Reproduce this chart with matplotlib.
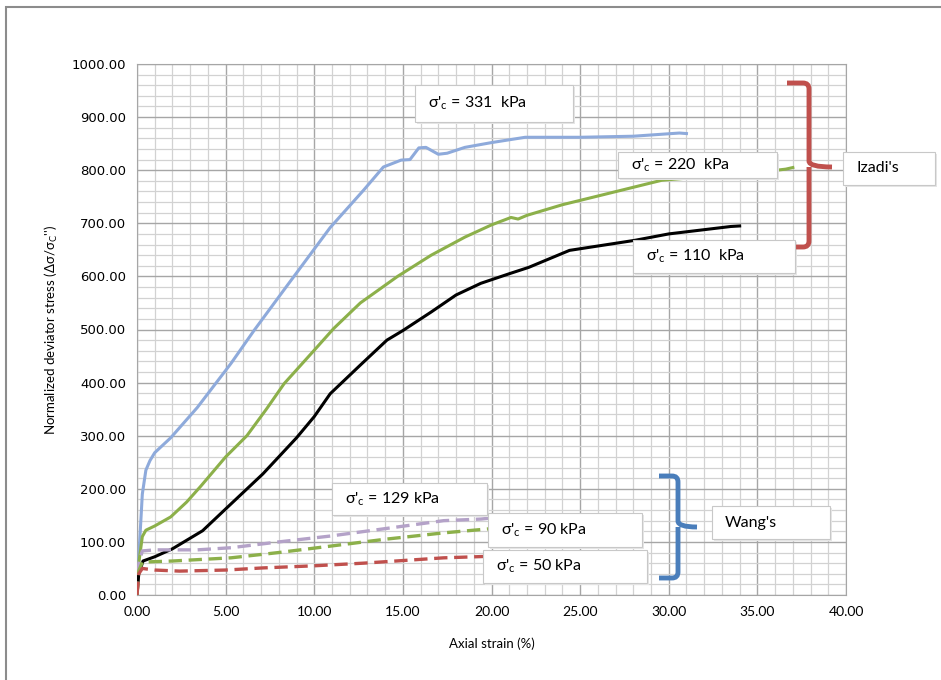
import matplotlib.pyplot as plt
from matplotlib.patches import Rectangle
from matplotlib.path import Path
from matplotlib.patches import PathPatch
from matplotlib.ticker import MultipleLocator, FormatStrFormatter

# Datos (deformacion axial %, esfuerzo normalizado)
# Izadi's
x_331 = [0, 0.15, 0.3, 0.5, 0.73, 1.0, 1.9, 3.4, 5.3, 6.6, 8.5, 10.9, 12.8, 13.9,
         14.9, 15.4, 15.9, 16.3, 17.0, 17.5, 18.5, 20.0, 21.9, 25.0, 28.0, 30.6, 31.0]
y_331 = [0, 100, 190, 235, 253, 268, 296, 353, 436, 498, 584, 692, 763, 806,
         819, 820, 842, 843, 830, 832, 843, 852, 862, 862, 864, 870, 869]

x_220 = [0, 0.1, 0.3, 0.5, 1.0, 1.9, 2.8, 3.6, 5.0, 6.2, 7.3, 8.3, 10.0, 11.1, 12.6,
         14.7, 16.6, 18.5, 20.0, 21.1, 21.5, 22.0, 24.0, 26.2, 29.6, 31.0, 33.6, 36.6, 37.0]
y_220 = [0, 60, 110, 122, 130, 147, 175, 205, 260, 300, 350, 398, 461, 502, 550,
         600, 640, 674, 697, 711, 708, 715, 735, 753, 781, 785, 790, 802, 805]

x_110 = [0, 0.1, 0.34, 1.0, 2.0, 3.7, 5.0, 7.1, 9.0, 10.0, 10.9, 12.6, 14.1, 15.0, 16.6,
         18.0, 19.4, 21.0, 22.1, 24.4, 28.1, 30.0, 33.5, 34.0]
y_110 = [0, 40, 64, 72, 87, 121, 162, 228, 296, 336, 379, 433, 480, 498, 533,
         565, 587, 605, 617, 649, 668, 680, 694, 695]

# Wang's
x_129 = [0, 0.1, 0.3, 1.0, 3.4, 5.3, 8.0, 10.9, 14.0, 17.3, 19.4, 20.0]
y_129 = [0, 60, 83, 85, 85, 89, 100, 111, 125, 140, 143, 145]

x_90 = [0, 0.1, 0.3, 2.0, 5.3, 8.0, 10.9, 14.0, 17.3, 20.0]
y_90 = [0, 45, 62, 64, 70, 80, 92, 105, 117, 125]

x_50 = [0, 0.1, 0.3, 1.0, 2.4, 5.0, 7.1, 10.0, 12.8, 17.3, 20.0]
y_50 = [0, 40, 50, 47, 45, 47, 51, 55, 60, 70, 73]

W, H = 941, 680
fig = plt.figure(figsize=(W / 100, H / 100), dpi=100)
ax = fig.add_axes([137 / W, 1 - 595 / H, (846 - 137) / W, (595 - 64) / H])

# Borde del area del grafico
fig.patches.append(Rectangle((6 / W, -0.1), 1.2, 1 - 7 / H + 0.1, transform=fig.transFigure,
                             fill=False, edgecolor='#8c8c8c', linewidth=1.5))

# Curvas
ax.plot(x_331, y_331, color='#8eaadb', linewidth=2.2, zorder=3)
ax.plot(x_220, y_220, color='#8cb04a', linewidth=2.2, zorder=3)
ax.plot(x_110, y_110, color='black', linewidth=2.2, zorder=3)
ax.plot(x_129, y_129, color='#b4a2c8', linewidth=2.4, dashes=(4, 2), zorder=3)
ax.plot(x_90, y_90, color='#8cb04a', linewidth=2.4, dashes=(4, 2), zorder=3)
ax.plot(x_50, y_50, color='#c0504d', linewidth=2.4, dashes=(4, 2), zorder=3)

ax.set_xlim(0, 40)
ax.set_ylim(0, 1000)
ax.xaxis.set_major_locator(MultipleLocator(5))
ax.xaxis.set_minor_locator(MultipleLocator(1))
ax.yaxis.set_major_locator(MultipleLocator(100))
ax.yaxis.set_minor_locator(MultipleLocator(20))
ax.xaxis.set_major_formatter(FormatStrFormatter('%.2f'))
ax.yaxis.set_major_formatter(FormatStrFormatter('%.2f'))
ax.grid(which='major', color='#a6a6a6', linewidth=1.0)
ax.grid(which='minor', color='#d2d2d2', linewidth=0.9)
ax.set_axisbelow(True)
ax.tick_params(which='both', length=0, pad=8)
for lab in ax.get_xticklabels():
    lab.set_fontfamily('Lato')
    lab.set_fontsize(10)
for lab in ax.get_yticklabels():
    lab.set_fontfamily('DejaVu Sans')
    lab.set_fontsize(9.5)
for s in ax.spines.values():
    s.set_color('#a6a6a6')

ax.set_xlabel('Axial strain (%)', fontfamily='Lato', fontsize=9.5, labelpad=14)
ax.set_ylabel(r"Normalized deviator stress (Δσ/σ$\mathregular{_C}$'')", fontfamily='Lato',
              fontsize=9.5, labelpad=8)

# Cuadros de texto
etiquetas = [
    (r"σ'$\mathregular{_c}$ = 331  kPa", 415, 85, 573, 122),
    (r"σ'$\mathregular{_c}$ = 220  kPa", 618, 152, 777, 178),
    (r"σ'$\mathregular{_c}$ = 110  kPa", 633, 240, 795, 273),
    (r"σ'$\mathregular{_c}$ = 129 kPa", 332, 483, 487, 515),
    (r"σ'$\mathregular{_c}$ = 90 kPa", 488, 513, 642, 547),
    (r"σ'$\mathregular{_c}$ = 50 kPa", 483, 550, 647, 583),
    ("Izadi's", 843, 152, 935, 185),
    ("Wang's", 712, 506, 830, 539),
]
for txt, x0, y0, x1, y1 in etiquetas:
    fig.patches.append(Rectangle((x0 / W + 0.002, 1 - y1 / H - 0.003), (x1 - x0) / W, (y1 - y0) / H,
                                 transform=fig.transFigure, facecolor='#e6e6e6',
                                 edgecolor='none', zorder=4))
    fig.patches.append(Rectangle((x0 / W, 1 - y1 / H), (x1 - x0) / W, (y1 - y0) / H,
                                 transform=fig.transFigure, facecolor='white',
                                 edgecolor='#c8c8c8', linewidth=0.8, zorder=5))
    fig.text((x0 + 13) / W, 1 - (y0 + y1) / 2 / H, txt, fontfamily='Lato', fontsize=11.5,
             va='center', ha='left', zorder=6)


# Llaves
def llave(xv, xh, xt, ytop, ymid, ybot, color):
    r = 6
    verts = [(xh, ytop), (xv - r, ytop), (xv, ytop), (xv, ytop + r),
             (xv, ymid - r), (xv, ymid), (xt, ymid),
             (xv, ymid), (xv, ymid + r),
             (xv, ybot - r), (xv, ybot), (xv - r, ybot), (xh, ybot)]
    codes = [Path.MOVETO, Path.LINETO, Path.CURVE3, Path.CURVE3,
             Path.LINETO, Path.CURVE3, Path.LINETO,
             Path.MOVETO, Path.CURVE3,
             Path.LINETO, Path.CURVE3, Path.CURVE3, Path.LINETO]
    verts = [(vx / W, 1 - vy / H) for vx, vy in verts]
    fig.patches.append(PathPatch(Path(verts, codes), transform=fig.transFigure, fill=False,
                                 edgecolor=color, linewidth=3.5, capstyle='butt', zorder=4))


llave(809, 787, 832, 83, 167, 247, '#c0504d')
llave(678, 659, 697, 476, 527, 578, '#4a7ebb')

fig.savefig('out.png', dpi=100)
